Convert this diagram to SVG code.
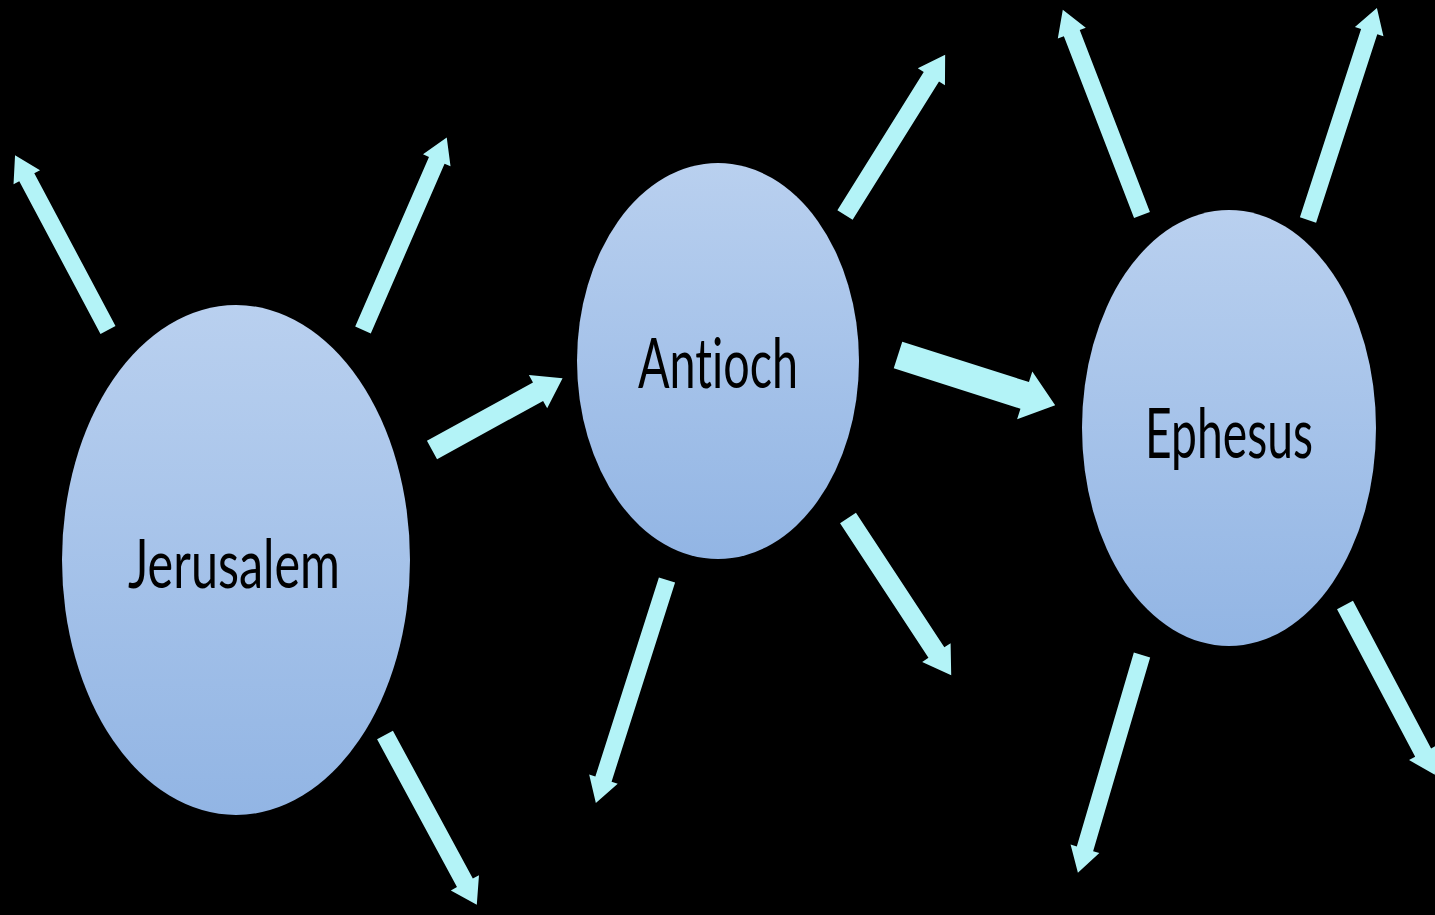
<svg xmlns="http://www.w3.org/2000/svg" width="1435" height="915" viewBox="0 0 1435 915">
<defs>
<linearGradient id="g" x1="0" y1="0" x2="0" y2="1">
<stop offset="0" stop-color="#b9d0ef"/>
<stop offset="1" stop-color="#92b5e4"/>
</linearGradient>
<style>
.arr{fill:#b3f3f7;}
.node{fill:url(#g);}
.lbl{font-family:Lato,"Open Sans",sans-serif;fill:#000;text-anchor:middle;font-variant-ligatures:none;font-feature-settings:"liga" 0;}
</style>
</defs>
<rect width="1435" height="915" fill="#000"/>
<g id="connectors">
<g transform="translate(108,330) rotate(-118)"><polygon class="arr" points="0,-8.5 173,-8.5 173,-15 198,0 173,15 173,8.5 0,8.5"/></g>
<g transform="translate(363,330) rotate(-66.5)"><polygon class="arr" points="0,-8.5 185,-8.5 185,-15 210,0 185,15 185,8.5 0,8.5"/></g>
<g transform="translate(432,450) rotate(-28.8)"><polygon class="arr" points="0,-10.5 121,-10.5 121,-19 149,0 121,19 121,10.5 0,10.5"/></g>
<g transform="translate(385,735) rotate(61.6)"><polygon class="arr" points="0,-9 168,-9 168,-16 193,0 168,16 168,9 0,9"/></g>
<g transform="translate(845,215) rotate(-58)"><polygon class="arr" points="0,-9 163,-9 163,-16 189,0 163,16 163,9 0,9"/></g>
<g transform="translate(898,355) rotate(17.7)"><polygon class="arr" points="0,-14 133,-14 133,-25 165,0 133,25 133,14 0,14"/></g>
<g transform="translate(848,518) rotate(56.7)"><polygon class="arr" points="0,-9.5 161,-9.5 161,-17 188,0 161,17 161,9.5 0,9.5"/></g>
<g transform="translate(667,580) rotate(107.7)"><polygon class="arr" points="0,-8.5 209,-8.5 209,-15 234,0 209,15 209,8.5 0,8.5"/></g>
<g transform="translate(1142,215) rotate(-111.1)"><polygon class="arr" points="0,-8.5 195,-8.5 195,-15 220,0 195,15 195,8.5 0,8.5"/></g>
<g transform="translate(1308,220) rotate(-72)"><polygon class="arr" points="0,-8.5 198,-8.5 198,-15 223,0 198,15 198,8.5 0,8.5"/></g>
<g transform="translate(1142,655) rotate(106.4)"><polygon class="arr" points="0,-8.5 202,-8.5 202,-15 227,0 202,15 202,8.5 0,8.5"/></g>
<g transform="translate(1345,605) rotate(62.1)"><polygon class="arr" points="0,-9 167,-9 167,-16 192,0 167,16 167,9 0,9"/></g>
</g>
<g id="jerusalem">
<ellipse class="node" cx="236" cy="560" rx="174" ry="255"/>
<text class="lbl" x="234" y="588" font-size="68" textLength="212" lengthAdjust="spacingAndGlyphs">Jerusalem</text>
</g>
<g id="antioch">
<ellipse class="node" cx="718" cy="361" rx="141" ry="198"/>
<text class="lbl" x="718" y="388" font-size="70" textLength="160" lengthAdjust="spacingAndGlyphs">Antioch</text>
</g>
<g id="ephesus">
<ellipse class="node" cx="1229" cy="428" rx="147" ry="218"/>
<text class="lbl" x="1229" y="458" font-size="70" textLength="168" lengthAdjust="spacingAndGlyphs">Ephesus</text>
</g>
</svg>
